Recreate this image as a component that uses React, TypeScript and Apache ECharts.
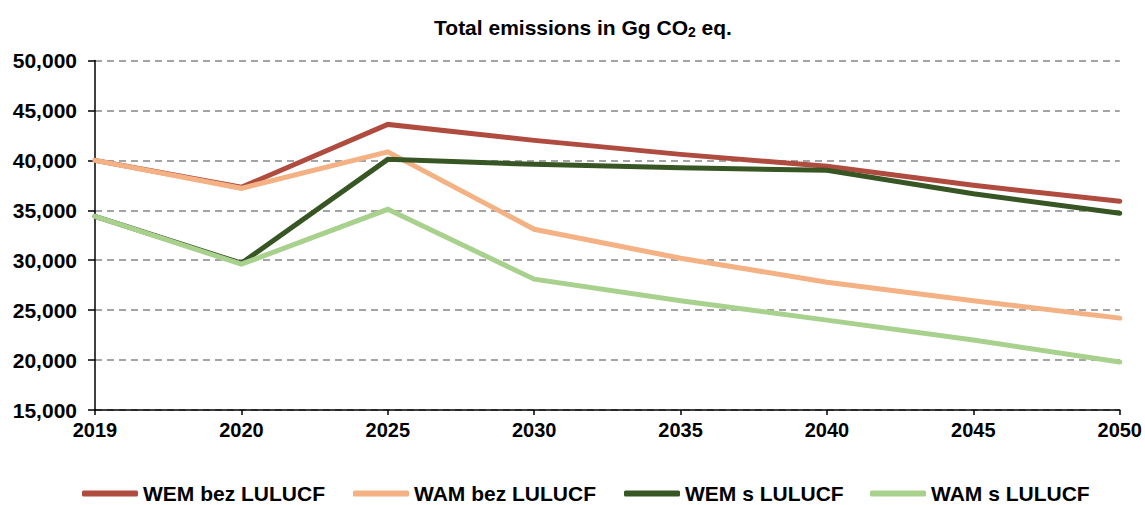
import React, { useEffect, useRef } from "react";
import * as echarts from "echarts";

const years = ["2019", "2020", "2025", "2030", "2035", "2040", "2045", "2050"];
const wemBez = [40000, 37300, 43600, 42000, 40600, 39400, 37500, 35900];
const wamBez = [40000, 37200, 40850, 33100, 30200, 27800, 25950, 24200];
const wemS = [34400, 29700, 40100, 39600, 39250, 39000, 36650, 34700];
const wamS = [34400, 29600, 35100, 28100, 25950, 24000, 22000, 19800];

const names = ["WEM bez LULUCF", "WAM bez LULUCF", "WEM s LULUCF", "WAM s LULUCF"];
const colors = ["#AF4B3F", "#F4B183", "#375623", "#A9D18E"];
const seriesData = [wemBez, wamBez, wemS, wamS];
const legendLeft = [82, 353, 624, 870];

export default function App() {
  const ref = useRef<HTMLDivElement>(null);
  useEffect(() => {
    document.body.style.margin = "0";
    const chart = echarts.init(ref.current!, null, { renderer: "svg" });
    const font = "'Liberation Sans', Arial, sans-serif";
    chart.setOption({
      animation: false,
      backgroundColor: "#ffffff",
      textStyle: { fontFamily: font },
      graphic: [
        {
          type: "text",
          x: 583,
          y: 27,
          style: {
            text: "{a|Total emissions in Gg CO}{s|2}{a| eq.}",
            textAlign: "center",
            textVerticalAlign: "middle",
            align: "center",
            verticalAlign: "middle",
            rich: {
              a: { fontSize: 21, fontWeight: "bold", fontFamily: font, fill: "#000", color: "#000" },
              s: { fontSize: 14, fontWeight: "bold", fontFamily: font, fill: "#000", color: "#000", padding: [10, 0, 0, 0] },
            },
          },
        },
      ],
      legend: names.map((n, i) => ({
        data: [n],
        left: legendLeft[i],
        top: 483,
        padding: 0,
        icon: "roundRect",
        itemWidth: 56,
        itemHeight: 6,
        selectedMode: false,
        textStyle: { fontSize: 21, fontWeight: "bold", color: "#000", fontFamily: font },
      })),
      grid: { left: 95, right: 25, top: 60.5, bottom: 95, containLabel: false },
      xAxis: {
        type: "category",
        data: years,
        boundaryGap: false,
        axisLine: { lineStyle: { color: "#000", width: 1.5 } },
        axisTick: { show: true, length: 5, alignWithLabel: true, lineStyle: { color: "#000", width: 1.5 } },
        axisLabel: { fontSize: 20, fontWeight: "bold", color: "#000", margin: 10, fontFamily: font },
        splitLine: { show: false },
      },
      yAxis: {
        type: "value",
        min: 15000,
        max: 50000,
        interval: 5000,
        axisLine: { show: true, lineStyle: { color: "#000", width: 1.5 } },
        axisTick: { show: true, length: 7, lineStyle: { color: "#000", width: 1.5 } },
        axisLabel: {
          fontSize: 21,
          fontWeight: "bold",
          color: "#000",
          margin: 18,
          fontFamily: font,
          formatter: (v: number) => v.toLocaleString("en-US"),
        },
        splitLine: { show: true, lineStyle: { color: "#868686", width: 1.5, type: [7, 5] } },
      },
      series: names.map((n, i) => ({
        name: n,
        type: "line",
        data: seriesData[i],
        symbol: "none",
        showSymbol: false,
        color: colors[i],
        lineStyle: { color: colors[i], width: 5, join: "miter", cap: "round" },
        itemStyle: { color: colors[i] },
      })),
    });
    return () => chart.dispose();
  }, []);
  return <div ref={ref} style={{ width: 1145, height: 505 }} />;
}
